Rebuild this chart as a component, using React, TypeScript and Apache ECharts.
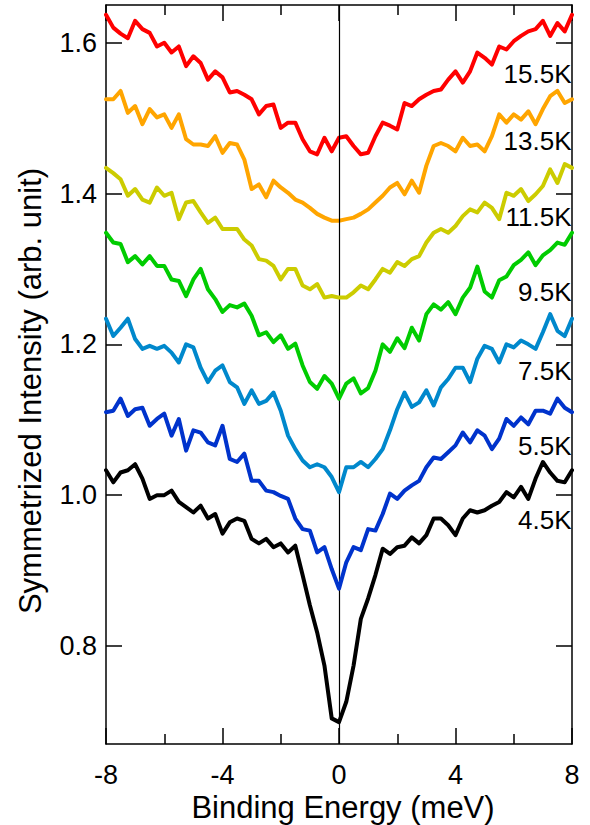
import React, { useEffect, useRef } from "react";
import * as echarts from "echarts";

const FONT = "'Liberation Sans', Arial, Helvetica, sans-serif";

const energy = [
  -8, -7.75, -7.5, -7.25, -7, -6.75, -6.5, -6.25, -6, -5.75, -5.5, -5.25, -5, -4.75, -4.5, -4.25,
  -4, -3.75, -3.5, -3.25, -3, -2.75, -2.5, -2.25, -2, -1.75, -1.5, -1.25, -1, -0.75, -0.5, -0.25,
  0, 0.25, 0.5, 0.75, 1, 1.25, 1.5, 1.75, 2, 2.25, 2.5, 2.75, 3, 3.25, 3.5, 3.75,
  4, 4.25, 4.5, 4.75, 5, 5.25, 5.5, 5.75, 6, 6.25, 6.5, 6.75, 7, 7.25, 7.5, 7.75, 8,
];

const t15_5K = [
  1.637, 1.62, 1.612, 1.606, 1.629, 1.618, 1.613, 1.595, 1.6, 1.587, 1.595, 1.569, 1.582, 1.573, 1.551, 1.562,
  1.554, 1.534, 1.536, 1.531, 1.525, 1.505, 1.516, 1.518, 1.487, 1.494, 1.494, 1.472, 1.456, 1.452, 1.474, 1.456,
  1.474, 1.476, 1.463, 1.452, 1.454, 1.476, 1.494, 1.49, 1.485, 1.52, 1.516, 1.525, 1.531, 1.536, 1.538, 1.551,
  1.562, 1.547, 1.562, 1.587, 1.58, 1.571, 1.595, 1.591, 1.602, 1.609, 1.615, 1.618, 1.629, 1.609, 1.626, 1.615, 1.637,
];
const t13_5K = [
  1.525, 1.525, 1.536, 1.507, 1.516, 1.492, 1.512, 1.501, 1.505, 1.487, 1.505, 1.472, 1.465, 1.465, 1.463, 1.476,
  1.454, 1.467, 1.465, 1.445, 1.406, 1.412, 1.395, 1.417, 1.408, 1.401, 1.392, 1.388, 1.381, 1.373, 1.368, 1.364,
  1.364, 1.366, 1.368, 1.373, 1.379, 1.388, 1.397, 1.408, 1.414, 1.399, 1.417, 1.401, 1.437, 1.463, 1.467, 1.463,
  1.456, 1.474, 1.463, 1.465, 1.456, 1.476, 1.505, 1.494, 1.505, 1.498, 1.509, 1.492, 1.512, 1.529, 1.536, 1.52, 1.525,
];
const t11_5K = [
  1.434, 1.427, 1.419, 1.397, 1.406, 1.392, 1.388, 1.408, 1.397, 1.401, 1.366, 1.388, 1.39, 1.375, 1.361, 1.368,
  1.353, 1.353, 1.353, 1.339, 1.331, 1.313, 1.311, 1.304, 1.286, 1.3, 1.3, 1.278, 1.273, 1.28, 1.262, 1.264,
  1.262, 1.262, 1.269, 1.278, 1.273, 1.286, 1.3, 1.295, 1.309, 1.304, 1.313, 1.317, 1.335, 1.348, 1.353, 1.348,
  1.357, 1.37, 1.379, 1.375, 1.388, 1.381, 1.366, 1.401, 1.397, 1.406, 1.39, 1.399, 1.41, 1.432, 1.414, 1.439, 1.434,
];
const t9_5K = [
  1.348, 1.335, 1.333, 1.309, 1.317, 1.306, 1.317, 1.304, 1.304, 1.286, 1.284, 1.264, 1.286, 1.3, 1.273, 1.26,
  1.243, 1.252, 1.249, 1.254, 1.238, 1.212, 1.216, 1.203, 1.212, 1.194, 1.201, 1.172, 1.15, 1.141, 1.158, 1.148,
  1.128, 1.148, 1.155, 1.135, 1.142, 1.165, 1.2, 1.19, 1.208, 1.195, 1.222, 1.205, 1.24, 1.253, 1.246, 1.256,
  1.24, 1.262, 1.275, 1.303, 1.27, 1.262, 1.285, 1.29, 1.305, 1.312, 1.322, 1.305, 1.318, 1.325, 1.335, 1.332, 1.348,
];
const t7_5K = [
  1.234, 1.211, 1.222, 1.234, 1.207, 1.194, 1.198, 1.194, 1.198, 1.189, 1.176, 1.2, 1.196, 1.169, 1.15, 1.165,
  1.172, 1.15, 1.143, 1.121, 1.139, 1.121, 1.125, 1.136, 1.112, 1.079, 1.061, 1.046, 1.037, 1.041, 1.037, 1.024,
  1.004, 1.037, 1.037, 1.044, 1.037, 1.048, 1.061, 1.086, 1.114, 1.136, 1.117, 1.123, 1.139, 1.119, 1.143, 1.154,
  1.169, 1.169, 1.15, 1.181, 1.198, 1.194, 1.176, 1.2, 1.196, 1.205, 1.2, 1.194, 1.216, 1.24, 1.218, 1.211, 1.234,
];
const t5_5K = [
  1.11, 1.112, 1.128, 1.105, 1.114, 1.116, 1.092, 1.101, 1.108, 1.079, 1.101, 1.059, 1.086, 1.083, 1.07, 1.066,
  1.092, 1.048, 1.044, 1.055, 1.019, 1.019, 1.006, 1.004, 0.999, 0.995, 0.969, 0.955, 0.953, 0.924, 0.931, 0.902,
  0.876, 0.911, 0.931, 0.927, 0.955, 0.953, 0.975, 1.002, 0.995, 1.006, 1.013, 1.019, 1.037, 1.05, 1.048, 1.057,
  1.066, 1.083, 1.07, 1.086, 1.079, 1.061, 1.075, 1.101, 1.092, 1.103, 1.094, 1.112, 1.112, 1.108, 1.128, 1.116, 1.11,
];
const t4_5K = [
  1.033, 1.017, 1.03, 1.033, 1.041, 1.022, 0.995, 1.0, 1.0, 1.006, 0.991, 0.984, 0.977, 0.986, 0.969, 0.975,
  0.949, 0.964, 0.969, 0.966, 0.942, 0.936, 0.942, 0.931, 0.936, 0.924, 0.933, 0.894, 0.854, 0.818, 0.774, 0.704,
  0.699, 0.726, 0.774, 0.836, 0.863, 0.894, 0.929, 0.922, 0.931, 0.933, 0.944, 0.936, 0.947, 0.969, 0.969, 0.96,
  0.947, 0.969, 0.98, 0.977, 0.98, 0.986, 0.991, 1.004, 0.997, 1.011, 0.995, 1.022, 1.044, 1.03, 1.019, 1.017, 1.033,
];

const seriesNames = ["15.5K", "13.5K", "11.5K", "9.5K", "7.5K", "5.5K", "4.5K"];
const seriesValues = [t15_5K, t13_5K, t11_5K, t9_5K, t7_5K, t5_5K, t4_5K];
const seriesColors = ["#ff0000", "#ffa500", "#cccc00", "#00cc00", "#0088cc", "#0033cc", "#000000"];
const labelY = [1.558, 1.469, 1.369, 1.27, 1.165, 1.065, 0.967];
const labelX = 8;

const xTicks = { min: -8, max: 8, interval: 4 };
const yTickValues = [0.8, 1.0, 1.2, 1.4, 1.6];
const yRange = { min: 0.67, max: 1.65 };

const xTitle = "Binding Energy (meV)";
const yTitle = "Symmetrized Intensity (arb. unit)";

export default function App() {
  const ref = useRef<HTMLDivElement>(null);
  useEffect(() => {
    if (!ref.current) return;
    const chart = echarts.init(ref.current, null, { renderer: "svg" });
    const lineStyle = { color: "#000", width: 1.5 };
    const xBase = {
      type: "value",
      min: xTicks.min,
      max: xTicks.max,
      interval: xTicks.interval,
      splitLine: { show: false },
      minorSplitLine: { show: false },
      axisLine: { show: true, onZero: false, lineStyle },
      axisTick: { show: true, inside: true, length: 16, lineStyle },
      minorTick: { show: true, splitNumber: 2, length: 10, lineStyle },
    };
    const yBase = {
      type: "value",
      min: yRange.min,
      max: yRange.max,
      splitLine: { show: false },
      axisLine: { show: true, onZero: false, lineStyle },
      axisTick: { show: true, inside: true, length: 16, lineStyle, customValues: yTickValues },
    };
    const series: any[] = seriesNames.map((name, k) => ({
      name,
      type: "line",
      showSymbol: false,
      symbol: "none",
      z: 3 + k,
      data: energy.map((x, i) => [x, seriesValues[k][i]]),
      lineStyle: { color: seriesColors[k], width: 4, join: "round", cap: "round" },
      itemStyle: { color: seriesColors[k] },
      markPoint: {
        silent: true,
        symbol: "circle",
        symbolSize: 1,
        itemStyle: { color: "rgba(0,0,0,0)" },
        data: [{ coord: [labelX, labelY[k]] }],
        label: {
          show: true,
          position: "left",
          distance: 0,
          formatter: name,
          color: "#000",
          fontSize: 26,
          fontFamily: FONT,
        },
      },
    }));
    series.push({
      name: "zero",
      type: "line",
      data: [],
      z: 2,
      markLine: {
        silent: true,
        symbol: ["none", "none"],
        label: { show: false },
        lineStyle: { color: "#000", width: 1.2, type: "solid" },
        data: [{ xAxis: 0 }],
      },
    });
    chart.setOption({
      animation: false,
      backgroundColor: "#ffffff",
      grid: { left: 106, right: 18, top: 5, bottom: 81, containLabel: false },
      xAxis: [
        {
          ...xBase,
          position: "bottom",
          axisLabel: { show: true, margin: 17, fontSize: 27, color: "#000", fontFamily: FONT },
        },
        { ...xBase, position: "top", axisLabel: { show: false } },
      ],
      yAxis: [
        {
          ...yBase,
          position: "left",
          axisLabel: {
            show: true,
            margin: 9,
            fontSize: 27,
            color: "#000",
            fontFamily: FONT,
            customValues: yTickValues,
            formatter: (v: number) => v.toFixed(1),
          },
        },
        { ...yBase, position: "right", axisLabel: { show: false } },
      ],
      graphic: [
        {
          type: "text",
          x: 343,
          y: 807,
          style: {
            text: xTitle,
            font: `31px ${FONT}`,
            fill: "#000",
            align: "center",
            verticalAlign: "middle",
          },
        },
        {
          type: "text",
          x: 30,
          y: 391,
          rotation: Math.PI / 2,
          style: {
            text: yTitle,
            font: `31px ${FONT}`,
            fill: "#000",
            align: "center",
            verticalAlign: "middle",
          },
        },
      ],
      series,
    });
    return () => chart.dispose();
  }, []);
  return (
    <div
      ref={ref}
      style={{ position: "fixed", left: 0, top: 0, width: 590, height: 825, background: "#fff" }}
    />
  );
}
